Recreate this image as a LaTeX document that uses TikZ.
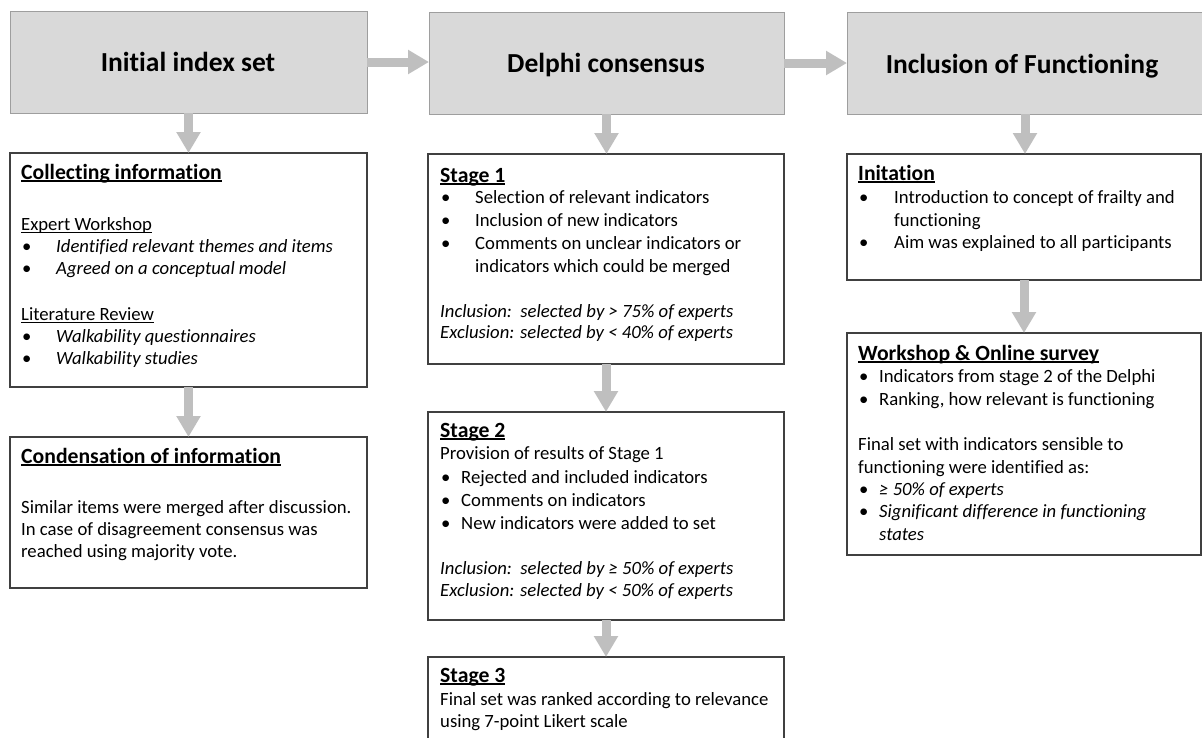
\documentclass[tikz,border=0pt]{standalone}
\usepackage{fontspec}
\setmainfont{Carlito}[Ligatures={NoCommon}]
\usetikzlibrary{arrows.meta}
\newcommand{\myul}[2][1.3pt]{\setbox0\hbox{#2}\rlap{\rule[-2.8pt]{\wd0}{#1}}\box0}
\newcommand{\mytl}[5][txt]{\node[#1] (#2) at (#3,#4) {#5};}
\tikzset{
  hdr/.style={draw=black!38, fill=black!15, line width=1pt, inner sep=0pt, outer sep=0pt, anchor=north west},
  panel/.style={draw=black!75, line width=1.3pt, inner sep=0pt, outer sep=0pt, anchor=north west},
  arr/.style={draw=black!25, line width=9pt, -{Triangle[width=23pt,length=21pt]}},
  htxt/.style={anchor=base, inner sep=0pt, font=\fontsize{27.5}{33}\selectfont\bfseries},
  txt/.style={anchor=base west, inner sep=0pt, font=\fontsize{18.7}{22.5}\selectfont},
  itxt/.style={txt, font=\fontsize{18.7}{22.5}\selectfont\itshape},
  hd/.style={anchor=base west, inner sep=0pt, font=\fontsize{21.7}{26}\selectfont\bfseries},
}
\begin{document}
\begin{tikzpicture}[x=1pt,y=-1pt]
\clip (0,0) rectangle (1202,737);
\fill[white] (0,0) rectangle (1202,737);
% headers
\node[hdr, minimum width=357, minimum height=102] (h1) at (10,11) {};
\node[hdr, minimum width=355, minimum height=102] (h2) at (429,12) {};
\node[hdr, minimum width=356, minimum height=102] (h3) at (847,12) {};
\node[htxt] (h1t) at (188,71) {Initial index set};
\node[htxt] (h2t) at (606,72) {Delphi consensus};
\node[htxt] (h3t) at (1022,73) {Inclusion of Functioning};
% panels
\node[panel, minimum width=357, minimum height=234] (b1) at (10,153) {};
\node[panel, minimum width=357, minimum height=151] (b2) at (10,437) {};
\node[panel, minimum width=356, minimum height=210] (s1) at (428,154) {};
\node[panel, minimum width=356, minimum height=208] (s2) at (428,412) {};
\node[panel, minimum width=356, minimum height=120] (s3) at (428,657) {};
\node[panel, minimum width=354, minimum height=126] (i1) at (847,154) {};
\node[panel, minimum width=354, minimum height=222] (w1) at (847,333) {};
% arrows
\draw[arr] (h1.east) -- (h1.east -| h2.west);
\draw[arr] (h2.east) -- (h2.east -| h3.west);
\draw[arr] (h1.south) -- (h1.south |- b1.north);
\draw[arr] (h2.south) -- (h2.south |- s1.north);
\draw[arr] (h3.south) -- (h3.south |- i1.north);
\draw[arr] (b1.south) -- (b1.south |- b2.north);
\draw[arr] (s1.south) -- (s1.south |- s2.north);
\draw[arr] (s2.south) -- (s2.south |- s3.north);
\draw[arr] (i1.south) -- (i1.south |- w1.north);
% box 1
\mytl[hd]{a0}{21}{179}{\myul[1.6pt]{Collecting information}}
\mytl{a1}{21}{230}{\myul{Expert Workshop}}
\mytl{a2b}{22}{252}{•}
\mytl[itxt]{a2}{56}{252}{Identified relevant themes and items}
\mytl{a3b}{22}{274}{•}
\mytl[itxt]{a3}{56}{274}{Agreed on a conceptual model}
\mytl{a4}{21}{320}{\myul{Literature Review}}
\mytl{a5b}{22}{342}{•}
\mytl[itxt]{a5}{56}{342}{Walkability questionnaires}
\mytl{a6b}{22}{364}{•}
\mytl[itxt]{a6}{56}{364}{Walkability studies}
% box 2
\mytl[hd]{c0}{21}{463}{\myul[1.6pt]{Condensation of information}}
\mytl{c1}{21}{513}{Similar items were merged after discussion.}
\mytl{c2}{21}{535}{In case of disagreement consensus was}
\mytl{c3}{21}{557}{reached using majority vote.}
% stage 1
\mytl[hd]{d0}{440}{182}{\myul[1.6pt]{Stage 1}}
\mytl{d1b}{441}{203}{•}
\mytl{d1}{475}{203}{Selection of relevant indicators}
\mytl{d2b}{441}{226}{•}
\mytl{d2}{475}{226}{Inclusion of new indicators}
\mytl{d3b}{441}{249}{•}
\mytl{d3}{475}{249}{Comments on unclear indicators or}
\mytl{d4}{475}{272}{indicators which could be merged}
\mytl[itxt]{d5}{440}{317}{Inclusion:\ \ selected by > 75\% of experts}
\mytl[itxt]{d6}{440}{338}{Exclusion: selected by < 40\% of experts}
% stage 2
\mytl[hd]{e0}{440}{437}{\myul[1.6pt]{Stage 2}}
\mytl{e1}{440}{459}{Provision of results of Stage 1}
\mytl{e2b}{441}{483}{•}
\mytl{e2}{461}{483}{Rejected and included indicators}
\mytl{e3b}{441}{506}{•}
\mytl{e3}{461}{506}{Comments on indicators}
\mytl{e4b}{441}{529}{•}
\mytl{e4}{461}{529}{New indicators were added to set}
\mytl[itxt]{e5}{440}{574}{Inclusion:\ \ selected by ≥ 50\% of experts}
\mytl[itxt]{e6}{440}{596}{Exclusion: selected by < 50\% of experts}
% stage 3
\mytl[hd]{f0}{440}{682}{\myul[1.6pt]{Stage 3}}
\mytl{f1}{440}{705}{Final set was ranked according to relevance}
\mytl{f2}{440}{727}{using 7-point Likert scale}
% initiation
\mytl[hd]{g0}{858}{180}{\myul[1.6pt]{Initation}}
\mytl{g1b}{859}{203}{•}
\mytl{g1}{894}{203}{Introduction to concept of frailty and}
\mytl{g2}{894}{226}{functioning}
\mytl{g3b}{859}{248}{•}
\mytl{g3}{894}{248}{Aim was explained to all participants}
% workshop
\mytl[hd]{k0}{858}{360}{\myul[1.6pt]{Workshop \& Online survey}}
\mytl{k1b}{859}{382}{•}
\mytl{k1}{879}{382}{Indicators from stage 2 of the Delphi}
\mytl{k2b}{859}{405}{•}
\mytl{k2}{879}{405}{Ranking, how relevant is functioning}
\mytl{k3}{858}{450}{Final set with indicators sensible to}
\mytl{k4}{858}{473}{functioning were identified as:}
\mytl{k5b}{859}{495}{•}
\mytl[itxt]{k5}{879}{495}{≥ 50\% of experts}
\mytl{k6b}{859}{517}{•}
\mytl[itxt]{k6}{879}{517}{Significant difference in functioning}
\mytl[itxt]{k7}{879}{540}{states}
\end{tikzpicture}
\end{document}
